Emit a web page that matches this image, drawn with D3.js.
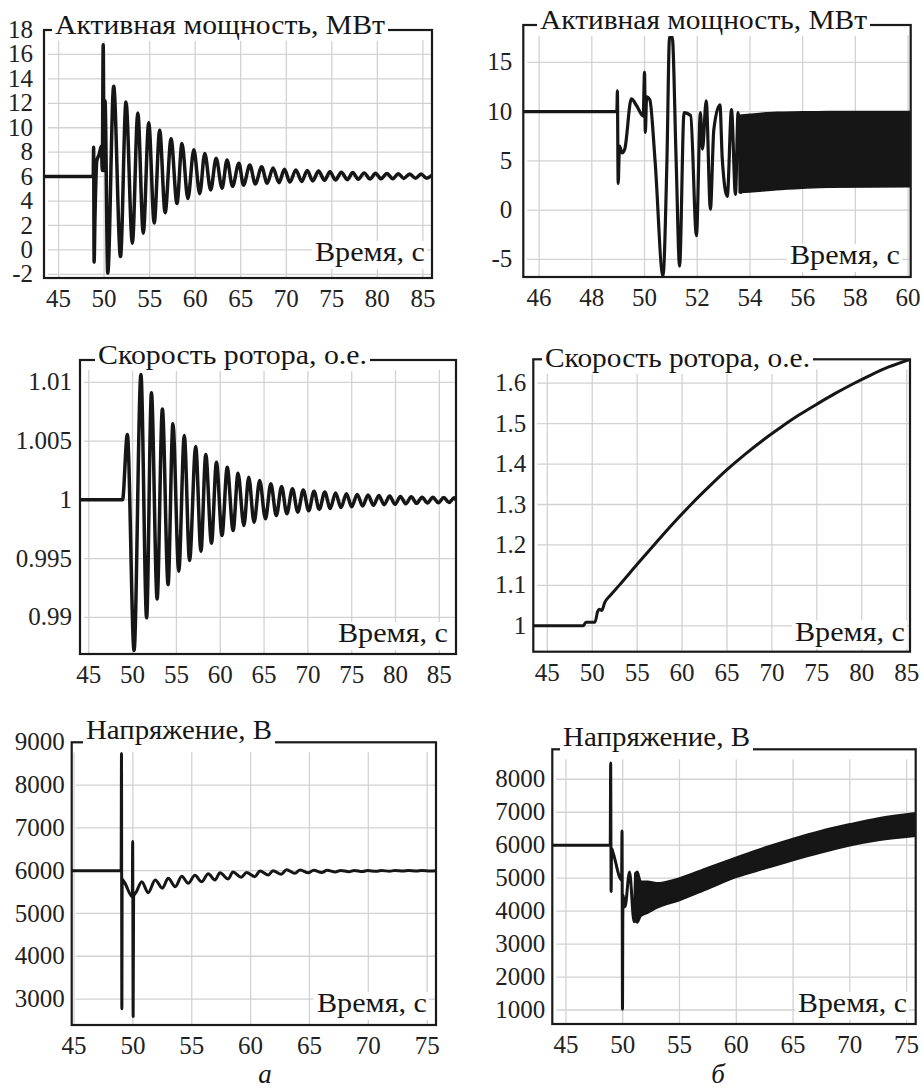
<!DOCTYPE html>
<html><head><meta charset="utf-8">
<script src="https://cdn.jsdelivr.net/npm/d3@7"></script>
</head><body style="margin:0;background:#fff">
<div id="wrap" style="position:relative;width:923px;height:1090px;overflow:hidden">
<svg id="c" width="923" height="1090" style="position:absolute;left:0;top:0"></svg>
</div>
<script>
// ---------- DATA ----------
const titles = ["Активная мощность, МВт", "Активная мощность, МВт", "Скорость ротора, о.е.", "Скорость ротора, о.е.", "Напряжение, В", "Напряжение, В"];
const timeLabel = "Время, с";
const panelLetters = ["а", "б"];

// x ticks
const xTicksA = [45, 50, 55, 60, 65, 70, 75, 80, 85];
const xTicksP2 = [46, 48, 50, 52, 54, 56, 58, 60];
const xTicksU = [45, 50, 55, 60, 65, 70, 75];
// y ticks
const yTicksP1 = [-2, 0, 2, 4, 6, 8, 10, 12, 14, 16, 18];
const yTicksP2 = [-5, 0, 5, 10, 15];
const yTicksW1 = [0.99, 0.995, 1, 1.005, 1.01];
const yTicksW2 = [1, 1.1, 1.2, 1.3, 1.4, 1.5, 1.6];
const yTicksU1 = [3000, 4000, 5000, 6000, 7000, 8000, 9000];
const yTicksU2 = [1000, 2000, 3000, 4000, 5000, 6000, 7000, 8000];

// Active power, case а  [time s, MW]
const powerA = [[43.4,6.0],[48.8,6.0],[48.85,8.4],[48.9,-1.0],[49.0,2.8],[49.2,7.3],[49.45,7.8],[49.7,8.5],[49.8,6.5],[49.9,16.8],[50.0,6.5],[50.1,12.2],[50.4,-1.9],
[51.05,13.4],[51.8,-0.55],[52.4,12.1],[53.1,0.55],[53.7,11.2],[54.3,1.37],[54.9,10.4],[55.5,2.2],[56.1,9.8],[56.7,3.05],[57.35,9.1],[58.0,3.8],[58.55,8.7],[59.2,4.2],[59.85,8.2],[60.5,4.6],[61.05,7.9],[61.7,4.9],[62.3,7.5],[62.95,5.05],[63.5,7.36],[64.1,5.2],[64.8,7.1],[65.3,5.3],[66.0,6.95],[66.6,5.4],[67.3,6.8],[67.9,5.45],[68.55,6.7],[69.2,5.5],[69.8,6.6],[70.4,5.55],[71.05,6.55],[71.7,5.6],[72.3,6.5],[72.9,5.65],[73.55,6.45],[74.2,5.7],[74.8,6.4],[75.4,5.72],[76.05,6.36],[76.7,5.75],[77.3,6.33],[77.9,5.78],[78.55,6.3],[79.2,5.8],[79.8,6.28],[80.4,5.82],[81.05,6.25],[81.7,5.83],[82.3,6.24],[82.9,5.85],[83.55,6.22],[84.2,5.86],[84.8,6.21],[85.4,5.87],[86.0,6.1]];

// Active power, case б (line part)
const powerB = [[45.4,10],[48.95,10],[48.97,12.1],[49.0,2.7],[49.05,6.5],[49.15,5.8],[49.25,6.2],[49.5,11.3],[49.7,10.6],[49.95,9.55],[50.0,14.0],[50.03,7.9],[50.08,11.5],[50.2,11.2],[50.4,5.0],[50.7,-6.7],[50.85,5.0],[50.95,17.6],[51.05,17.6],[51.2,5.0],[51.33,-5.7],[51.5,9.9],[51.75,9.6],[51.97,-2.6],[52.12,9.9],[52.2,6.2],[52.34,11.1],[52.5,0.1],[52.63,8.2],[52.86,10.7],[52.95,5.2],[53.14,1.4],[53.3,10.2],[53.45,1.6],[53.55,9.9],[53.65,1.8]];
// dense oscillation band, case б  [time, lower, upper]
const powerBBand = [[53.6,1.8,9.6],[54.0,1.85,9.7],[55.0,2.1,9.9],[56.0,2.25,9.95],[57.0,2.35,10.0],[60.1,2.4,10.0]];

// Rotor speed, case а
const speedA = [[44.0,1.0],[48.85,1.0],[49.4,1.00556],[50.17,0.98717],[50.95,1.01066],[51.6,0.98996],[52.15,1.00911],[52.8,0.99157],[53.4,1.00774],[54.05,0.99279],[54.6,1.00647],[55.27,0.99392],[55.9,1.00547],[56.5,0.99483],[57.2,1.00454],[57.8,0.99563],[58.35,1.00386],[59.0,0.99631],[59.57,1.0032],[60.2,0.99696],[60.8,1.00278],[61.47,0.99739],[62.03,1.00227],[62.7,0.99781],[63.25,1.00192],[63.86,0.99809],[64.5,1.00164],[65.16,0.99838],[65.77,1.00136],[66.4,0.99866],[67.0,1.00113],[67.6,0.99881],[68.24,1.00094],[68.85,0.99895],[69.47,1.00083],[70.1,0.99907],[70.7,1.00074],[71.3,0.99917],[71.93,1.00066],[72.55,0.99926],[73.16,1.00059],[73.78,0.99934],[74.4,1.00052],[75.0,0.99941],[75.63,1.00046],[76.25,0.99947],[76.86,1.00041],[77.48,0.99953],[78.1,1.00036],[78.7,0.99958],[79.33,1.00032],[79.95,0.99962],[80.56,1.00029],[81.18,0.99966],[81.8,1.00026],[82.4,0.9997],[83.03,1.00023],[83.65,0.99973],[84.26,1.00021],[84.88,0.99975],[85.5,1.00019],[86.1,0.99977],[86.7,1.00017],[86.9,1.0]];

// Rotor speed, case б
const speedB = [[43.4,1.0],[49.0,1.0],[49.3,1.009],[50.3,1.009],[50.6,1.035],[50.8,1.041],[51.05,1.038],[51.4,1.058],[52.0,1.075],[53.0,1.1],[55.0,1.152],[57.0,1.203],[59.0,1.253],[61.0,1.3],[63.0,1.344],[65.0,1.386],[67.0,1.424],[69.0,1.459],[71.0,1.491],[73.0,1.521],[75.0,1.548],[77.0,1.574],[79.0,1.598],[81.0,1.62],[83.0,1.64],[85.4,1.659]];

// Voltage, case а
const voltA = [[44.8,6000],[49.0,6000],[49.03,8740],[49.06,2770],[49.09,5800],[49.3,5720],[49.95,5390],[49.98,6680],[50.02,2590],[50.06,5400],[50.3,5510],[50.75,5743],[51.3,5486],[51.9,5783],[52.5,5589],[53.0,5822],[53.6,5626],[54.15,5870],[54.7,5706],[55.27,5890],[55.84,5743],[56.4,5930],[56.97,5783],[57.4,5950],[58.1,5806],[58.5,5970],[59.2,5845],[59.65,5960],[60.35,5860],[60.8,5990],[61.5,5900],[61.9,6000],[62.6,5916],[63.05,6020],[63.76,5939],[64.2,6016],[64.9,5950],[65.35,6010],[66.05,5960],[66.5,6008],[67.2,5968],[67.65,6006],[68.35,5975],[68.8,6005],[69.5,5980],[69.95,6004],[70.65,5984],[71.1,6003],[71.8,5987],[72.25,6003],[72.95,5990],[73.4,6002],[74.1,5992],[74.55,6002],[75.25,5994],[75.75,6000]];

// Voltage, case б (line part)
const voltB = [[43.8,6000],[48.9,6000],[48.94,8490],[48.98,4590],[49.02,5900],[49.17,5750],[49.9,4940],[49.94,6430],[49.98,1020],[50.02,4500],[50.2,4130],[50.6,5190],[51.0,3680],[51.15,5150],[51.3,3800]];
// dense band, case б [time, lower, upper]
const voltBBand = [[51.1,3700,5150],[51.3,3650,5200],[51.6,3850,4900],[52.2,3950,4900],[53.0,4100,4850],[55.0,4330,5000],[57.5,4680,5320],[60.0,5030,5630],[62.5,5290,5930],[65.0,5545,6200],[67.5,5780,6440],[70.0,5990,6640],[72.5,6150,6820],[75.8,6280,6980]];

// ---------- LAYOUT ----------
const panels = [
  {f:[44,432,30,278], xd:[43.4,86], yd:[-2.3,18], xt:xTicksA, yt:yTicksP1, ypad:11, title:0, tt:{x:55,w:330,b:35}, tl:{x:315,w:110,b:262}, line:powerA, sw:3.5},
  {f:[523.3,910.7,25,277], xd:[45.4,60.1], yd:[-6.8,18.8], xt:xTicksP2, yt:yTicksP2, ypad:11, title:1, tt:{x:540,w:327,b:30}, tl:{x:790,w:110,b:265}, line:powerB, band:powerBBand, sw:3.2},
  {f:[80,456,360,654], xd:[44,86.9], yd:[0.98688,1.0119], xt:xTicksA, yt:yTicksW1, ypad:8, title:2, tt:{x:98,w:269,b:365}, tl:{x:338,w:110,b:643}, line:speedA, sw:3.5},
  {f:[533.3,910,359.3,651.7], xd:[43.44,85.37], yd:[0.936,1.659], xt:xTicksA, yt:yTicksW2, ypad:7, title:3, tt:{x:545,w:265,b:368}, tl:{x:795,w:110,b:641.5}, line:speedB, sw:3},
  {f:[71.7,436,742.3,1025], xd:[44.8,75.75], yd:[2393,9000], xt:xTicksU, yt:yTicksU1, ypad:7, title:4, tt:{x:86,w:186,b:740}, tl:{x:316.7,w:110,b:1013}, line:voltA, sw:3},
  {f:[552.3,915.7,749.3,1024], xd:[43.8,75.8], yd:[576,8909], xt:xTicksU, yt:yTicksU2, ypad:7, title:5, tt:{x:563,w:187,b:746.7}, tl:{x:798,w:109,b:1013}, line:voltB, band:voltBBand, sw:3}
];

const svg = d3.select("#c");
const wrap = d3.select("#wrap");
const ink = "#161616";
const ASC = 0.8375; // baseline offset (em) for Liberation Serif with line-height 1

// HTML text placed by baseline
function addText(str, x, baseline, size, opt) {
  opt = opt || {};
  const el = wrap.append("div")
    .style("position", "absolute").style("white-space", "nowrap")
    .style("font-family", "'Liberation Serif'").style("font-size", size + "px")
    .style("line-height", "1").style("color", opt.color || ink)
    .style("top", (baseline - ASC * size) + "px").style("left", "0px")
    .text(str);
  if (opt.italic) el.style("font-style", "italic");
  const w = el.node().getBoundingClientRect().width;
  let left = x;
  if (opt.width) {
    el.style("transform-origin", "0 0").style("transform", `scaleX(${opt.width / w})`);
  } else if (opt.anchor === "middle") left = x - w / 2;
  else if (opt.anchor === "end") left = x - w;
  el.style("left", left + "px");
  return el;
}

panels.forEach((p, i) => {
  const [x0, x1, y0, y1] = p.f;
  const x = d3.scaleLinear().domain(p.xd).range([x0, x1]);
  const y = d3.scaleLinear().domain(p.yd).range([y1, y0]);
  const g = svg.append("g");

  // grid
  g.append("g").selectAll("line").data(p.xt).join("line")
    .attr("x1", d => x(d)).attr("x2", d => x(d)).attr("y1", y0 + 10).attr("y2", y1)
    .attr("stroke", "#d2d2d2").attr("stroke-width", 1.3);
  g.append("g").selectAll("line").data(p.yt).join("line")
    .attr("x1", x0 + 4).attr("x2", x1).attr("y1", d => y(d)).attr("y2", d => y(d))
    .attr("stroke", "#d2d2d2").attr("stroke-width", 1.3);

  // clip
  const cid = "clip" + i;
  svg.append("clipPath").attr("id", cid).append("rect")
    .attr("x", x0).attr("y", y0).attr("width", x1 - x0).attr("height", y1 - y0);
  const dg = g.append("g").attr("clip-path", `url(#${cid})`);

  if (p.band) {
    dg.append("path").datum(p.band)
      .attr("d", d3.area().x(d => x(d[0])).y0(d => y(d[1])).y1(d => y(d[2])).curve(d3.curveMonotoneX))
      .attr("fill", ink).attr("stroke", ink).attr("stroke-width", 2).attr("stroke-linejoin", "round");
  }
  dg.append("path").datum(p.line)
    .attr("d", d3.line().x(d => x(d[0])).y(d => y(d[1])).curve(d3.curveMonotoneX))
    .attr("fill", "none").attr("stroke", ink).attr("stroke-width", p.sw)
    .attr("stroke-linejoin", "round").attr("stroke-linecap", "round");

  // frame
  g.append("rect").attr("x", x0).attr("y", y0).attr("width", x1 - x0).attr("height", y1 - y0)
    .attr("fill", "none").attr("stroke", "#1a1a1a").attr("stroke-width", 2.2);

  // tick labels (positions from the scales)
  p.xt.forEach(d => addText(String(d), x(d), y1 + 11 + 0.71 * 25, 25, {anchor: "middle", color: "#222"}));
  p.yt.forEach(d => addText(String(d), x0 - p.ypad, y(d) + 0.32 * 25, 25, {anchor: "end", color: "#222"}));

  // title on the top border
  g.append("rect").attr("x", p.tt.x - 3).attr("y", p.tt.b - 24).attr("width", p.tt.w + 6).attr("height", 30).attr("fill", "#fff");
  addText(titles[p.title], p.tt.x, p.tt.b, 27, {width: p.tt.w});

  // time label
  g.append("rect").attr("x", p.tl.x - 3).attr("y", p.tl.b - 21).attr("width", p.tl.w + 5).attr("height", 28).attr("fill", "#fff");
  addText(timeLabel, p.tl.x, p.tl.b, 27, {width: p.tl.w});
});

// panel letters
panelLetters.forEach((d, i) => addText(d, i === 0 ? 265 : 718, 1084, 27, {anchor: "middle", italic: true}));
</script>
</body></html>
